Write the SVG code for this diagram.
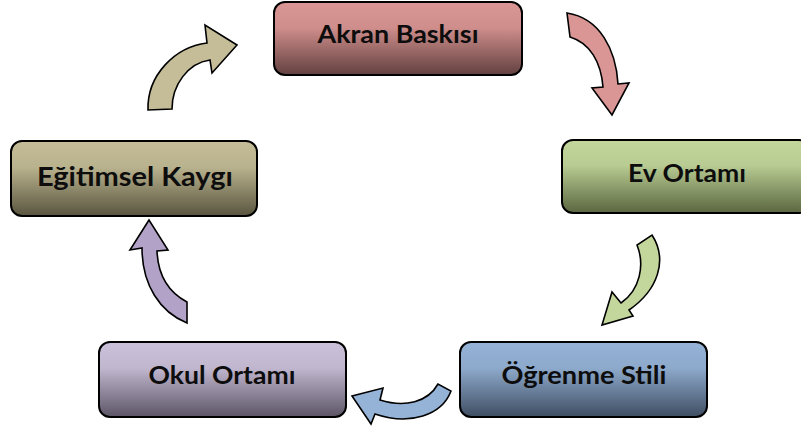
<svg xmlns="http://www.w3.org/2000/svg" width="801" height="429" viewBox="0 0 801 429">
<defs>
<linearGradient id="gRed" x1="0" y1="0" x2="0" y2="1"><stop offset="0" stop-color="#D99694"/><stop offset="0.35" stop-color="#CF8E8C"/><stop offset="1" stop-color="#624140"/></linearGradient>
<linearGradient id="gGreen" x1="0" y1="0" x2="0" y2="1"><stop offset="0" stop-color="#C3D69B"/><stop offset="0.35" stop-color="#B8CB92"/><stop offset="1" stop-color="#5A6640"/></linearGradient>
<linearGradient id="gBlue" x1="0" y1="0" x2="0" y2="1"><stop offset="0" stop-color="#95B3D7"/><stop offset="0.35" stop-color="#8DA9CB"/><stop offset="1" stop-color="#3F4E62"/></linearGradient>
<linearGradient id="gPurple" x1="0" y1="0" x2="0" y2="1"><stop offset="0" stop-color="#CCC1DA"/><stop offset="0.35" stop-color="#C0B6CE"/><stop offset="1" stop-color="#5C5566"/></linearGradient>
<linearGradient id="gTan" x1="0" y1="0" x2="0" y2="1"><stop offset="0" stop-color="#C4BD97"/><stop offset="0.35" stop-color="#B9B28E"/><stop offset="1" stop-color="#59553F"/></linearGradient>
</defs>
<style>
.box{stroke:#000;stroke-width:2}
.lbl{font-family:Lato,"Open Sans","Liberation Sans",sans-serif;font-weight:bold;font-size:24px;fill:#0D0D0D;text-anchor:middle}
.big{font-size:26px}
.arr{stroke:#000;stroke-width:1.6;stroke-linejoin:miter}
</style>
<rect width="801" height="429" fill="#fff"/>
<g id="connectors">
<path class="arr" fill="#D99694" d="M567,13 C600,18 616,50 618,84 L629,83 L612,115 L592,88 L603,87 C601,62 590,43 570,37 Z"/>
<path class="arr" fill="#C3D69B" d="M637,245 C645,265 640,290 621,303 L612,292 L602,325 L633,316 L629,310 C658,290 668,260 652,235 Z"/>
<path class="arr" fill="#95B3D7" d="M438,384 C428,402 405,408 380,400 L383,388 L352,396 L371,424 L375,414 C410,426 442,415 451,391 Z"/>
<path class="arr" fill="#B3A2C7" d="M149,220 L130,250 L142,248 C142,285 160,312 187,323 L187,302 C168,292 158,275 157,251 L168,250 Z"/>
<path class="arr" fill="#C4BD97" d="M148,110 C147,75 175,47 207,43 L205,25 L237,45 L212,73 L210,60 C188,63 172,85 172,109 Z"/>
</g>
<g id="akran-baskisi">
<rect class="box" x="274" y="2" width="248" height="73" rx="11" fill="url(#gRed)"/>
<text class="lbl" x="398" y="43" textLength="161" lengthAdjust="spacingAndGlyphs">Akran Baskısı</text>
</g>
<g id="ev-ortami">
<rect class="box" x="562" y="140" width="248" height="73" rx="11" fill="url(#gGreen)"/>
<text class="lbl" x="687" y="182" textLength="118" lengthAdjust="spacingAndGlyphs">Ev Ortamı</text>
</g>
<g id="ogrenme-stili">
<rect class="box" x="460" y="342" width="247" height="75" rx="11" fill="url(#gBlue)"/>
<text class="lbl" x="584" y="384" textLength="165" lengthAdjust="spacingAndGlyphs">Öğrenme Stili</text>
</g>
<g id="okul-ortami">
<rect class="box" x="99" y="342" width="247" height="75" rx="11" fill="url(#gPurple)"/>
<text class="lbl" x="222" y="384" textLength="147" lengthAdjust="spacingAndGlyphs">Okul Ortamı</text>
</g>
<g id="egitimsel-kaygi">
<rect class="box" x="11" y="141" width="246" height="75" rx="11" fill="url(#gTan)"/>
<text class="lbl big" x="135" y="186" textLength="196" lengthAdjust="spacingAndGlyphs">Eğitimsel Kaygı</text>
</g>
</svg>
